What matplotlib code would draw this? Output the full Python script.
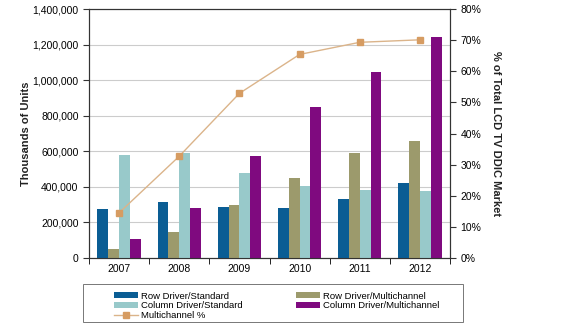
import matplotlib.pyplot as plt
import numpy as np
from matplotlib.patches import Rectangle
from matplotlib.ticker import FuncFormatter, MultipleLocator

plt.rcParams['font.family'] = ['Liberation Sans', 'DejaVu Sans']

years = ['2007', '2008', '2009', '2010', '2011', '2012']
row_std = [277000, 317000, 289000, 283000, 332000, 420000]
row_multi = [50000, 148000, 300000, 452000, 589000, 660000]
col_std = [577000, 589000, 480000, 403000, 384000, 375000]
col_multi = [105000, 283000, 572000, 849000, 1048000, 1245000]
multi_pct = [14.5, 32.7, 52.9, 65.4, 69.3, 70.1]

fig = plt.figure(figsize=(5.69, 3.29), dpi=100)
ax = fig.add_axes([89 / 569, 1 - 258 / 329, (450 - 89) / 569, (258 - 9) / 329])
ax2 = ax.twinx()

x = np.arange(len(years))
w = 0.18
series = [(row_std, '#0a5d94', 'Row Driver/Standard'),
          (row_multi, '#9c9a6c', 'Row Driver/Multichannel'),
          (col_std, '#98c9ca', 'Column Driver/Standard'),
          (col_multi, '#7f0a7f', 'Column Driver/Multichannel')]
bars = []
for i, (vals, c, lab) in enumerate(series):
    b = ax.bar(x + (i - 1.5) * w, vals, w, color=c, label=lab, zorder=3)
    bars.append(b)

line, = ax2.plot(x, multi_pct, color='#dbb48a', lw=1, marker='s', ms=5,
                 mfc='#d69c62', mec='#d69c62', label='Multichannel %', zorder=4)

ax.set_xlim(-0.5, 5.5)
ax.set_ylim(0, 1400000)
ax.yaxis.set_major_locator(MultipleLocator(200000))
ax.yaxis.set_major_formatter(FuncFormatter(lambda v, p: f'{int(v):,}'))
ax.grid(axis='y', color='#cccccc', lw=0.8, zorder=0)
ax.set_axisbelow(True)
ax.set_xticks(x)
ax.set_xticklabels(years)
ax.set_xticks(np.arange(-0.5, 6, 1), minor=True)
ax.tick_params(axis='x', which='major', length=0, labelsize=7.5, pad=4)
ax.tick_params(axis='x', which='minor', length=4, direction='out')
ax.tick_params(axis='y', labelsize=7.5, length=4, color='#333333')
ax.set_ylabel('Thousands of Units', fontsize=8, fontweight='bold', color='#222222',
              labelpad=1)

ax2.set_ylim(0, 80)
ax2.yaxis.set_major_locator(MultipleLocator(10))
ax2.yaxis.set_major_formatter(FuncFormatter(lambda v, p: f'{int(v)}%'))
ax2.tick_params(axis='y', labelsize=7.5, length=4, color='#333333')
ax2.set_ylabel('% of Total LCD TV DDIC Market', fontsize=8, fontweight='bold',
               color='#222222', rotation=270, labelpad=14)

for a in (ax, ax2):
    for s in a.spines.values():
        s.set_color('#333333')
        s.set_linewidth(0.8)

# legend frame drawn separately
fig.patches.append(Rectangle((83 / 569, 1 - 322 / 329), (463 - 83) / 569, (322 - 284) / 329,
                             transform=fig.transFigure, fill=False,
                             edgecolor='#777777', lw=0.7))

handles = [bars[0], bars[2], line, bars[1], bars[3]]
labels = [h.get_label() for h in handles]
leg = fig.legend(handles, labels, ncol=2, loc='upper left',
                 bbox_to_anchor=(108 / 569, 1 - 286 / 329), fontsize=6.8,
                 frameon=False, handlelength=2.6, handleheight=0.6,
                 labelspacing=0.08, columnspacing=5.6, borderpad=0.1,
                 handletextpad=0.3)

fig.savefig('out.png', dpi=100)
